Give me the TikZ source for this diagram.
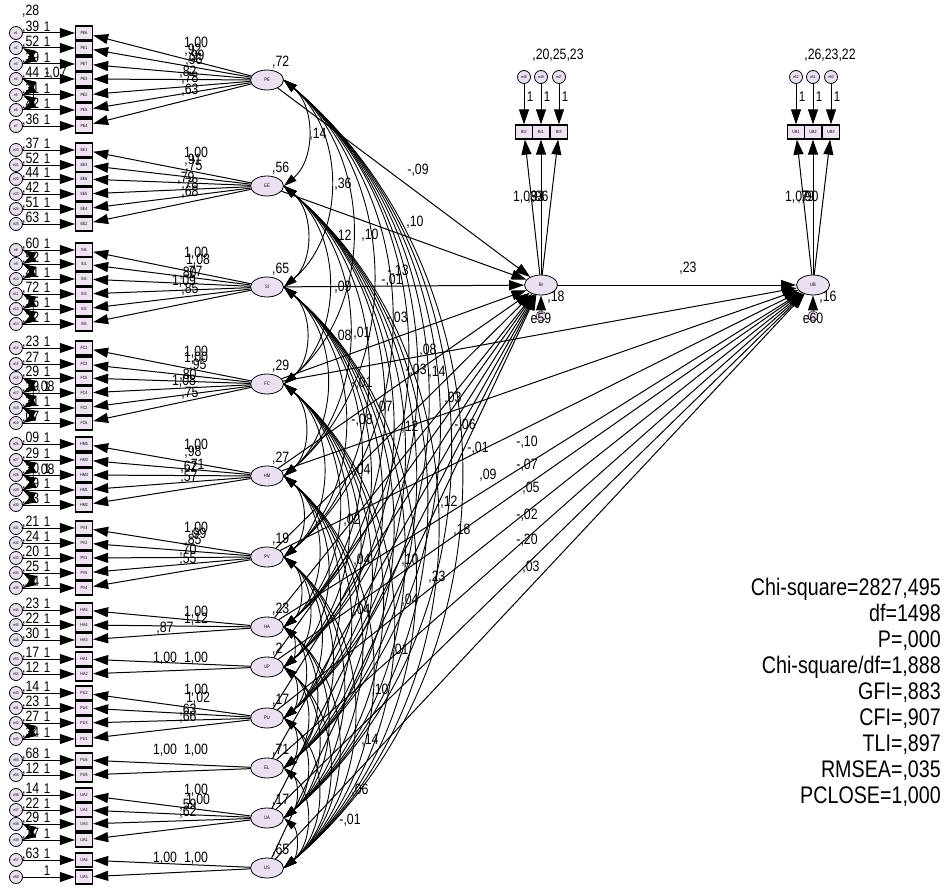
\documentclass[tikz,border=0pt]{standalone}
\usepackage{fontspec}
\setmainfont{Liberation Sans}[FakeStretch=0.82]
\usetikzlibrary{arrows.meta,shapes.geometric}
\definecolor{lav}{HTML}{EAE0F2}
\definecolor{boxc}{HTML}{EFE3F2}
\tikzset{
 errc/.style={circle,draw,line width=0.8pt,fill=lav,minimum size=13pt,inner sep=0pt,font=\fontsize{4}{4}\selectfont},
 indb/.style={rectangle,draw,line width=1.3pt,fill=boxc,minimum width=17pt,minimum height=14pt,inner sep=0pt,font=\fontsize{4.5}{5}\selectfont},
 latn/.style={ellipse,draw,line width=0.8pt,fill=lav,minimum width=33pt,minimum height=20pt,inner sep=0pt,font=\fontsize{5}{5}\selectfont},
 lb/.style={inner sep=0pt,font=\fontsize{15}{15}\selectfont},
 one/.style={inner sep=0pt,font=\fontsize{14}{14}\selectfont},
 arr/.style={-{Triangle[length=15pt,width=10pt]},line width=1pt},
 cov/.style={{Triangle[length=13pt,width=8pt]}-{Triangle[length=13pt,width=8pt]},line width=0.9pt},
}
\begin{document}
\begin{tikzpicture}[x=1pt,y=-1pt]
\useasboundingbox (0,0) rectangle (944,888);
% latent variables
\foreach \l/\y/\v in {PE/80/{,72},EE/186/{,56},SI/287/{,65},FC/384/{,29},HM/476/{,27},PV/557/{,19},HA/627/{,23},UP/667/{,2},PU/718/{,17},EL/768/{,71},UA/818/{,17},US/868/{,65}}{
 \node[latn] (\l) at (267,\y) {\l};
 \node[lb,anchor=south west] at (272,\y-11) {\v};
}
% indicators and errors
\foreach \i/\e/\y/\l/\v in {
PE6/e1/33/PE/{,39},PE1/e2/48/PE/{,52},PE7/e3/64/PE/{,39},PE3/e4/79/PE/{,44},PE2/e5/95/PE/{,31},PE5/e6/110/PE/{,42},PE4/e7/126/PE/{,36},
EE1/e20/150/EE/{,37},EE3/e21/165/EE/{,52},EE6/e22/179/EE/{,44},EE5/e23/194/EE/{,42},EE4/e24/209/EE/{,51},EE2/e25/224/EE/{,63},
SI6/e8/250/SI/{,60},SI1/e9/264/SI/{,52},SI4/e10/279/SI/{,41},SI3/e11/294/SI/{,72},SI2/e12/309/SI/{,35},SI5/e13/324/SI/{,22},
FC1/e14/348/FC/{,23},FC3/e15/364/FC/{,27},FC5/e16/378/FC/{,29},FC4/e17/393/FC/{,39},FC2/e18/408/FC/{,31},FC6/e19/423/FC/{,07},
HM5/e26/444/HM/{,09},HM3/e27/460/HM/{,29},HM4/e28/475/HM/{,30},HM1/e29/490/HM/{,29},HM2/e30/505/HM/{,13},
PV3/e31/528/PV/{,21},PV2/e32/543/PV/{,24},PV1/e33/558/PV/{,20},PV5/e34/573/PV/{,25},PV4/e35/588/PV/{,14},
HA5/e44/610/HA/{,23},HA4/e45/625/HA/{,22},HA3/e46/640/HA/{,30},HA1/e53/659/UP/{,17},HA2/e54/674/UP/{,12},
PU2/e40/693/PU/{,14},PU4/e41/708/PU/{,23},PU3/e42/723/PU/{,27},PU1/e43/739/PU/{,34},PU6/e55/760/EL/{,68},PU5/e56/775/EL/{,12},
UA2/e36/795/UA/{,14},UA4/e37/810/UA/{,22},UA3/e38/824/UA/{,29},UA1/e39/840/UA/{,17},UA6/e57/860/US/{,63},UA5/e58/877/US/{}}{
 \node[indb] (\i) at (84,\y) {\i};
 \node[errc] (\e) at (16,\y) {\e};
 \node[lb,anchor=south west] at (22,\y+1) {\v};
 \node[one] at (47,\y-6) {1};
 \draw[arr] (\e) -- (\i);
 \draw[arr] (\l) -- (\i);
}
\node[lb,anchor=south west] at (22,18) {,28};
\node[lb] at (56,73) {-,07};
\node[lb] at (46,387) {,08};
\node[lb] at (46,470) {,08};
% error covariances
\foreach \a/\b in {e2/e3,e4/e5,e5/e6,e4/e6,e8/e9,e9/e10,e11/e12,e12/e13,e11/e13,e16/e17,e17/e18,e18/e19,e16/e18,e27/e28,e28/e29,e29/e30,e27/e29,e34/e35,e42/e43,e38/e39}{
 \draw[cov] (\a.east) to[bend left=60] (\b.east);
}
% loadings labels
\foreach \t/\x/\y in {{1,00}/196/43,{,92}/193/50,{,99}/196/56,{,96}/194/60,{,82}/188/72,{,78}/190/78,{,63}/190/90,
{1,00}/196/153,{,91}/193/160,{,75}/194/166,{,79}/186/178,{,78}/190/184,{,68}/190/192,
{1,00}/196/253,{1,08}/198/260,{,80}/188/273,{,77}/194/272,{1,09}/184/281,{,85}/190/289,
{1,00}/196/352,{1,00}/196/358,{,95}/198/365,{,80}/188/375,{1,08}/184/381,{,75}/190/393,
{1,00}/196/445,{,98}/193/452,{,71}/196/465,{,62}/189/467,{,57}/189/477,
{1,00}/196/528,{,99}/198/534,{,85}/193/540,{,70}/188/550,{,55}/188/559,
{1,00}/196/612,{1,12}/196/619,{,87}/165/628,
{1,00}/165/658,{1,00}/196/658,
{1,00}/196/690,{1,02}/198/698,{,63}/188/710,{,66}/188/717,
{1,00}/165/750,{1,00}/196/750,
{1,00}/196/790,{1,00}/198/800,{,59}/188/805,{,62}/188/812,
{1,00}/165/858,{1,00}/196/858}{
 \node[lb] at (\x,\y) {\t};
}
% endogenous part
\node[latn] (BI) at (541,285) {BI};
\node[latn] (UB) at (813,285) {UB};
\foreach \i/\e/\x in {BI2/e48/524,BI1/e49/541,BI3/e47/559}{
 \node[indb] (\i) at (\x,132) {\i};
 \node[errc] (\e) at (\x,77) {\e};
 \draw[arr] (\e) -- (\i);
 \draw[arr] (BI) -- (\i);
 \node[one] at (\x+6,97) {1};
}
\foreach \i/\e/\x in {UB1/e52/796,UB2/e51/813,UB3/e50/831}{
 \node[indb] (\i) at (\x,132) {\i};
 \node[errc] (\e) at (\x,77) {\e};
 \draw[arr] (\e) -- (\i);
 \draw[arr] (UB) -- (\i);
 \node[one] at (\x+6,97) {1};
}
\node[lb] at (558,55) {,20,25,23};
\node[lb] at (830,55) {,26,23,22};
\node[lb] at (525,197) {1,03};
\node[lb] at (536,197) {,93};
\node[lb] at (540,197) {,96};
\node[lb] at (797,197) {1,07};
\node[lb] at (806,197) {,79};
\node[lb] at (810,197) {,90};
% residuals
\node[circle,draw,fill=lav,minimum size=10pt,inner sep=0pt] (e59) at (541,316) {};
\node[circle,draw,fill=lav,minimum size=10pt,inner sep=0pt] (e60) at (813,316) {};
\node[lb] at (541,318) {e59};
\node[lb] at (813,318) {e60};
\draw[arr] (e59) -- (BI);
\draw[arr] (e60) -- (UB);
\node[lb] at (556,297) {,18};
\node[lb] at (828,297) {,16};
% covariances among exogenous latents
\def\latlist{PE,EE,SI,FC,HM,PV,HA,UP,PU,EL,UA,US}
\foreach \a [count=\ia] in \latlist {
 \foreach \b [count=\ib] in \latlist {
  \ifnum\ib>\ia \draw[cov] (\a.east) to[bend left=50] (\b.east); \fi
 }
}
% structural paths
\foreach \a in \latlist {\draw[arr] (\a) -- (BI);}
\foreach \a in {FC,HM,PV,HA,UP,PU,EL,UA,US} {\draw[arr] (\a) -- (UB);}
\draw[arr] (BI) -- (UB);
\node[lb] at (688,268) {,23};
% path / covariance labels
\foreach \t/\x/\y in {{,14}/318/134,{,36}/343/184,{-,09}/418/170,{,10}/415/222,{,12}/343/236,{,10}/370/235,
{-,13}/398/271,{-,01}/392/280,{,09}/343/287,{,01}/362/333,{-,03}/397/318,{,08}/428/350,{,14}/437/372,{-,03}/416/370,
{,08}/343/336,{-,01}/362/383,{,03}/453/398,{-,08}/362/420,{,12}/410/427,{,07}/384/407,{-,06}/465/425,{-,01}/478/448,
{,09}/488/475,{,12}/449/502,{,18}/462/530,{,23}/437/577,{,04}/362/470,{,02}/352/520,{,04}/362/560,{,04}/362/610,
{,10}/410/560,{,04}/410/600,{,01}/400/650,{,10}/380/690,{,14}/370/740,{,06}/360/790,{-,01}/350/820,
{-,10}/527/442,{-,07}/527/465,{,05}/531/488,{-,02}/527/515,{-,20}/527/540,{,03}/531/567}{
 \node[lb] at (\x,\y) {\t};
}
% fit statistics
\node[anchor=north east,align=right,inner sep=0pt,font=\fontsize{24}{26}\selectfont] at (941,578)
 {Chi-square=2827,495\\df=1498\\P=,000\\Chi-square/df=1,888\\GFI=,883\\CFI=,907\\TLI=,897\\RMSEA=,035\\PCLOSE=1,000};
\end{tikzpicture}
\end{document}
